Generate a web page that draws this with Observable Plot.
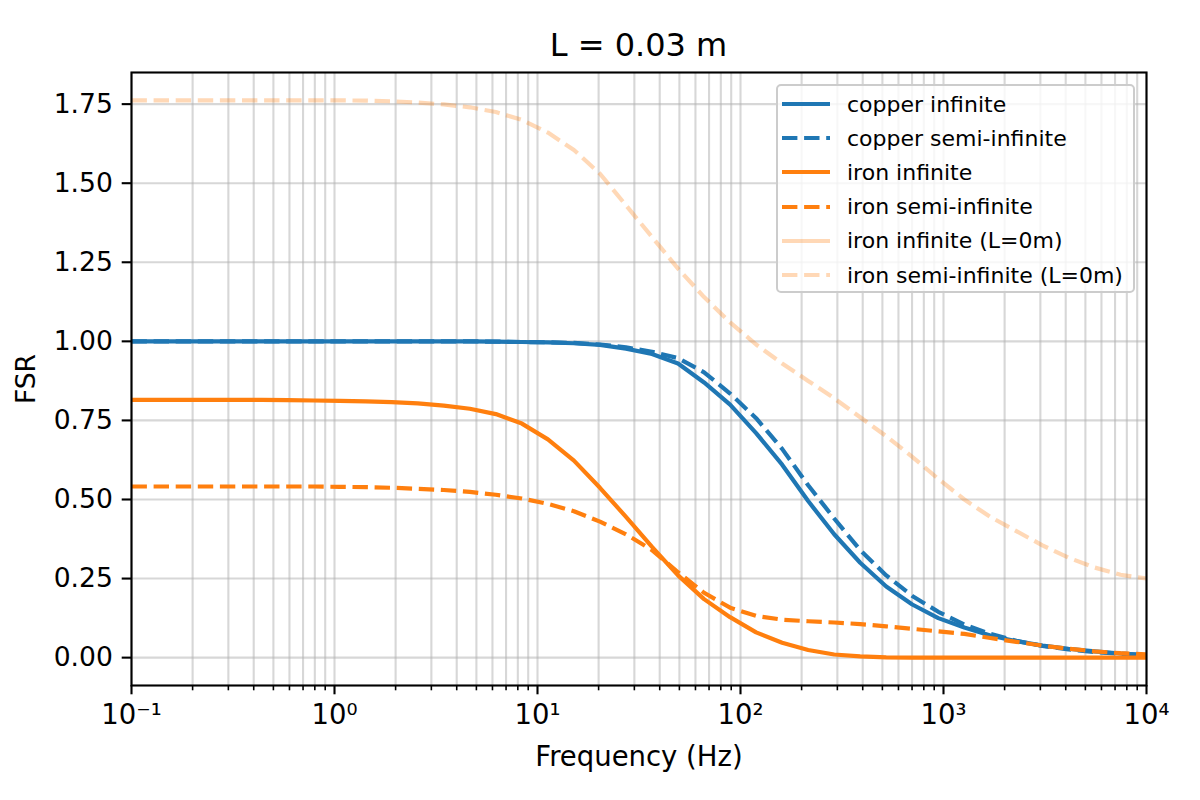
<!DOCTYPE html>
<html>
<head>
<meta charset="utf-8">
<script src="https://cdn.jsdelivr.net/npm/d3@7"></script>
<script src="https://cdn.jsdelivr.net/npm/@observablehq/plot@0.6"></script>
<style>
  html, body { margin: 0; padding: 0; background: white; }
  body { width: 1200px; height: 800px; position: relative; overflow: hidden; font-family: "DejaVu Sans", sans-serif; }
  #title { position: absolute; left: 131px; width: 1015px; top: 29px; text-align: center; font-size: 32px; line-height: 1; color: black; }
  #chart { position: absolute; left: 0; top: 60px; }
  #legend { position: absolute; left: 776px; top: 84px; width: 355px; height: 205px; border: 2px solid #cccccc; border-radius: 5px; background: rgba(255,255,255,0.8); box-sizing: content-box; }
  .row { position: absolute; left: 0; height: 34px; display: flex; align-items: center; }
  .row svg { margin-left: 4px; }
  .row span { margin-left: 17px; font-size: 22px; color: black; white-space: nowrap; }
</style>
</head>
<body>
<div id="title">L = 0.03 m</div>
<div id="chart"></div>
<div id="legend"></div>
<script>
// Frequencies (Hz), logarithmically spaced
const freq = [0.1, 0.13434, 0.18047, 0.24245, 0.32571, 0.43755, 0.5878, 0.78966, 1.0608, 1.4251,
  1.9145, 2.5719, 3.4551, 4.6416, 6.2355, 8.3768, 11.253, 15.118, 20.309, 27.283,
  36.652, 49.239, 66.147, 88.862, 119.38, 160.37, 215.44, 289.43, 388.8, 522.3,
  701.7, 942.7, 1266.4, 1701.3, 2285.5, 3070.4, 4124.7, 5541, 7443.8, 10000];

const copperInfinite = [1.0, 1.0, 1.0, 1.0, 1.0, 1.0, 1.0, 1.0, 1.0, 1.0,
  1.0, 1.0, 1.0, 1.0, 0.999, 0.998, 0.997, 0.994, 0.989, 0.977,
  0.96, 0.93, 0.87, 0.80, 0.71, 0.61, 0.495, 0.39, 0.30, 0.225,
  0.168, 0.125, 0.095, 0.07, 0.052, 0.038, 0.028, 0.02, 0.013, 0.008];

const copperSemiInfinite = [1.0, 1.0, 1.0, 1.0, 1.0, 1.0, 1.0, 1.0, 1.0, 1.0,
  1.0, 1.0, 1.0, 1.0, 0.999, 0.998, 0.997, 0.995, 0.99, 0.981,
  0.967, 0.947, 0.902, 0.835, 0.757, 0.66, 0.545, 0.44, 0.34, 0.26,
  0.195, 0.145, 0.105, 0.075, 0.053, 0.037, 0.026, 0.018, 0.012, 0.008];

const ironInfinite = [0.815, 0.815, 0.815, 0.815, 0.815, 0.815, 0.814, 0.813, 0.812, 0.81,
  0.808, 0.804, 0.797, 0.787, 0.77, 0.74, 0.69, 0.623, 0.537, 0.445,
  0.35, 0.26, 0.185, 0.128, 0.08, 0.047, 0.024, 0.01, 0.004, 0.001,
  0.0, 0.0, 0.0, 0.0, 0.0, 0.0, 0.0, 0.0, 0.0, 0.0];

const ironSemiInfinite = [0.541, 0.541, 0.541, 0.541, 0.541, 0.541, 0.541, 0.541, 0.54, 0.539,
  0.537, 0.534, 0.53, 0.524, 0.515, 0.503, 0.486, 0.463, 0.43, 0.39,
  0.34, 0.27, 0.205, 0.158, 0.132, 0.12, 0.115, 0.111, 0.106, 0.099,
  0.091, 0.083, 0.075, 0.062, 0.05, 0.038, 0.028, 0.02, 0.014, 0.01];

// "iron infinite (L=0m)" has no visible curve in the reference; only its legend entry shows
const ironInfiniteL0 = [];

const ironSemiInfiniteL0 = [1.762, 1.762, 1.762, 1.762, 1.762, 1.762, 1.762, 1.762, 1.762, 1.761,
  1.759, 1.755, 1.749, 1.74, 1.725, 1.70, 1.66, 1.605, 1.53, 1.43,
  1.33, 1.23, 1.14, 1.06, 0.99, 0.93, 0.875, 0.82, 0.76, 0.70,
  0.635, 0.565, 0.50, 0.445, 0.40, 0.355, 0.316, 0.285, 0.262, 0.25];

const seriesNames = ["copper infinite", "copper semi-infinite", "iron infinite", "iron semi-infinite", "iron infinite (L=0m)", "iron semi-infinite (L=0m)"];
const seriesValues = [copperInfinite, copperSemiInfinite, ironInfinite, ironSemiInfinite, ironInfiniteL0, ironSemiInfiniteL0];

const xMajorTicks = [0.1, 1, 10, 100, 1000, 10000];
const xMajorLabels = ["10⁻¹", "10⁰", "10¹", "10²", "10³", "10⁴"];
const yTicks = [0, 0.25, 0.5, 0.75, 1.0, 1.25, 1.5, 1.75];

const styles = [
  {stroke: "#1f77b4", opacity: 1, dash: null},
  {stroke: "#1f77b4", opacity: 1, dash: "15.4,6.7"},
  {stroke: "#ff7f0e", opacity: 1, dash: null},
  {stroke: "#ff7f0e", opacity: 1, dash: "15.4,6.7"},
  {stroke: "#ff7f0e", opacity: 0.3, dash: null},
  {stroke: "#ff7f0e", opacity: 0.3, dash: "15.4,6.7"}
];

const xMinorTicks = [];
for (let e = -1; e < 4; e++) for (let m = 2; m <= 9; m++) xMinorTicks.push(m * Math.pow(10, e));
const xAllGrid = xMajorTicks.concat(xMinorTicks);

const rows = seriesNames.map((name, i) => seriesValues[i].map((v, j) => ({f: freq[j], v, name})));

const lw = 4.2;
const lineMarks = rows.map((data, i) => Plot.line(data, {
  x: "f", y: "v", stroke: styles[i].stroke, strokeOpacity: styles[i].opacity,
  strokeWidth: lw, strokeDasharray: styles[i].dash || undefined,
  strokeLinecap: styles[i].dash ? "butt" : "square", strokeLinejoin: "round", clip: true
}));

const fmtMajor = d => xMajorLabels[xMajorTicks.indexOf(d)] ?? "";

const chart = Plot.plot({
  width: 1200,
  height: 740,
  marginLeft: 131,
  marginRight: 54,
  marginTop: 12,
  marginBottom: 115,
  style: {fontFamily: "DejaVu Sans", fontSize: "26.6px", color: "black", background: "white"},
  x: {type: "log", domain: [0.1, 10000]},
  y: {domain: [-0.0881, 1.850]},
  marks: [
    Plot.gridX(xAllGrid, {stroke: "#b0b0b0", strokeOpacity: 0.5, strokeWidth: 2.1}),
    Plot.gridY(yTicks, {stroke: "#b0b0b0", strokeOpacity: 0.5, strokeWidth: 2.1}),
    ...lineMarks,
    Plot.frame({stroke: "black", strokeWidth: 2.1}),
    Plot.axisX(xMinorTicks, {tickSize: 5.3, strokeWidth: 1.6, tickFormat: () => "", label: null}),
    Plot.axisX(xMajorTicks, {tickSize: 9.3, strokeWidth: 2.1, tickPadding: 9.3, tickFormat: fmtMajor,
      fontSize: 27.5, label: "Frequency (Hz)", labelAnchor: "center", labelArrow: "none", labelOffset: 80}),
    Plot.axisY(yTicks, {tickSize: 9.3, strokeWidth: 2.1, tickPadding: 9.3, tickFormat: d3.format(".2f"),
      fontSize: 26.6, label: "FSR", labelAnchor: "center", labelArrow: "none", labelOffset: 115})
  ]
});
document.getElementById("chart").appendChild(chart);

// legend
const legend = document.getElementById("legend");
seriesNames.forEach((name, i) => {
  const row = document.createElement("div");
  row.className = "row";
  row.style.top = (1 + i * 34.2) + "px";
  const s = styles[i];
  row.innerHTML = `<svg width="48" height="10"><line x1="0" x2="48" y1="5" y2="5" stroke="${s.stroke}" stroke-opacity="${s.opacity}" stroke-width="${lw}" ${s.dash ? `stroke-dasharray="${s.dash}"` : ""}></line></svg><span>${name}</span>`;
  legend.appendChild(row);
});
</script>
</body>
</html>
